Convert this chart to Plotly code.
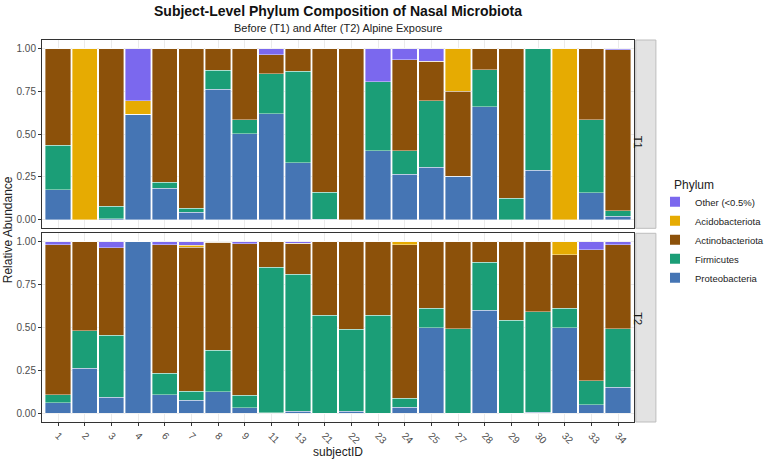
import plotly.graph_objects as go

subjects = ["1","2","3","4","6","7","8","9","11","13","21","22","23","24","25","27","28","29","30","32","33","34"]
phyla = ["Proteobacteria", "Firmicutes", "Actinobacteriota", "Acidobacteriota", "Other (<0.5%)"]
colors = {"Other (<0.5%)": "#7B68EE", "Acidobacteriota": "#E6AB02",
          "Actinobacteriota": "#8C510A", "Firmicutes": "#1B9E77", "Proteobacteria": "#4575B4"}

# T1 (before)
t1_proteo = [0.175,0,0.005,0.616,0.185,0.043,0.762,0.503,0.618,0.333,0.003,0,0.402,0.265,0.308,0.253,0.659,0,0.288,0,0.158,0.021]
t1_firm   = [0.26,0,0.075,0,0.035,0.023,0.111,0.08,0.234,0.534,0.157,0,0.403,0.137,0.388,0,0.218,0.127,0.712,0,0.425,0.032]
t1_actino = [0.565,0,0.92,0,0.78,0.934,0.127,0.417,0.111,0.133,0.84,1.0,0,0.534,0.23,0.497,0.123,0.873,0,0,0.417,0.941]
t1_acido  = [0,1.0,0,0.08,0,0,0,0,0,0,0,0,0,0,0,0.25,0,0,0,1.0,0,0]
t1_other  = [0,0,0,0.304,0,0,0,0,0.037,0,0,0,0.195,0.064,0.074,0,0,0,0,0,0,0.006]

# T2 (after)
t2_proteo = [0.062,0.262,0.093,1.0,0.109,0.078,0.126,0.033,0.003,0.014,0,0.014,0,0.037,0.499,0,0.6,0,0.008,0.499,0.05,0.153]
t2_firm   = [0.048,0.221,0.363,0,0.126,0.05,0.241,0.072,0.849,0.798,0.573,0.477,0.573,0.052,0.113,0.495,0.28,0.542,0.586,0.115,0.14,0.342]
t2_actino = [0.874,0.517,0.509,0,0.749,0.841,0.631,0.885,0.148,0.18,0.427,0.509,0.427,0.893,0.388,0.505,0.12,0.458,0.406,0.31,0.763,0.487]
t2_acido  = [0,0,0,0,0,0.01,0,0,0,0,0,0,0,0.018,0,0,0,0,0,0.076,0,0]
t2_other  = [0.016,0,0.035,0,0.016,0.021,0.002,0.01,0,0.008,0,0,0,0,0,0,0,0,0,0,0.047,0.018]

data = {
    "T1": dict(zip(phyla, [t1_proteo, t1_firm, t1_actino, t1_acido, t1_other])),
    "T2": dict(zip(phyla, [t2_proteo, t2_firm, t2_actino, t2_acido, t2_other])),
}

fig = go.Figure()
for tp, (xa, ya) in zip(["T1", "T2"], [("x", "y"), ("x2", "y2")]):
    for ph in phyla:
        fig.add_trace(go.Bar(
            x=subjects, y=data[tp][ph], name=ph, xaxis=xa, yaxis=ya,
            marker=dict(color=colors[ph], line=dict(color="white", width=0.4)),
            showlegend=(tp == "T1"), legendgroup=ph,
        ))

top_dom = [0.507, 1.0]
bot_dom = [0.0, 0.494]
gridc = "#EBEBEB"
tickfont = dict(family="Liberation Sans, Arial", size=10, color="#4D4D4D")

common_y = dict(range=[-0.05, 1.05], tickvals=[0, 0.25, 0.5, 0.75, 1.0],
                ticktext=["0.00", "0.25", "0.50", "0.75", "1.00"],
                showgrid=True, gridcolor=gridc, zeroline=False,
                ticks="outside", ticklen=3, tickcolor="#333333",
                showline=True, linecolor="#333333", linewidth=1, mirror=True,
                tickfont=tickfont)
common_x = dict(range=[-0.6, 21.6], showgrid=True, gridcolor=gridc,
                showline=True, linecolor="#333333", linewidth=1, mirror=True,
                type="category")

fig.update_layout(
    width=767, height=461,
    margin=dict(l=42, r=133, t=39.5, b=39, autoexpand=False),
    barmode="stack", bargap=0.06,
    plot_bgcolor="white", paper_bgcolor="white",
    font=dict(family="Liberation Sans, Arial", color="#222222"),
    xaxis=dict(domain=[0, 1], anchor="y", showticklabels=False, ticks="", matches="x2", **common_x),
    xaxis2=dict(domain=[0, 1], anchor="y2", ticks="outside", ticklen=3, tickcolor="#333333",
                tickangle=45, tickfont=tickfont, **common_x),
    yaxis=dict(domain=top_dom, anchor="x", **common_y),
    yaxis2=dict(domain=bot_dom, anchor="x2", **common_y),
    legend=dict(x=(655 - 42) / 592, y=(422 - 187) / 382.5, xanchor="left", yanchor="top",
                traceorder="reversed",
                font=dict(size=9.5, color="#222222"), itemsizing="constant",
                tracegroupgap=0, bgcolor="rgba(0,0,0,0)"),
)

# Legend title
fig.add_annotation(xref="paper", yref="paper", x=(672 - 42) / 592, y=(422 - 185) / 382.5,
                   text="Phylum", showarrow=False, xanchor="left", yanchor="middle",
                   font=dict(size=12, color="#222222"))

# Facet strips
strip_x0 = 1.003
strip_x1 = 1.037
for dom, lab in [(top_dom, "T1"), (bot_dom, "T2")]:
    fig.add_shape(type="rect", xref="paper", yref="paper", x0=strip_x0, x1=strip_x1,
                  y0=dom[0], y1=dom[1], fillcolor="#E3E3E3", line=dict(color="#BDBDBD", width=1))
    fig.add_annotation(xref="paper", yref="paper", x=(strip_x0 + strip_x1) / 2,
                       y=(dom[0] + dom[1]) / 2, text=lab, showarrow=False, textangle=90,
                       font=dict(size=11, color="#1A1A1A"))

# Titles
fig.add_annotation(xref="paper", yref="paper", x=(338 - 42) / 592, y=1.0, yshift=29,
                   text="<b>Subject-Level Phylum Composition of Nasal Microbiota</b>",
                   showarrow=False, font=dict(size=14, color="#111111"), yanchor="middle")
fig.add_annotation(xref="paper", yref="paper", x=(338 - 42) / 592, y=1.0, yshift=12,
                   text="Before (T1) and After (T2) Alpine Exposure",
                   showarrow=False, font=dict(size=11, color="#222222"), yanchor="middle")
fig.add_annotation(xref="paper", yref="paper", x=(338 - 42) / 592, y=0, yshift=-30,
                   text="subjectID", showarrow=False, font=dict(size=12, color="#222222"),
                   yanchor="middle")
fig.add_annotation(xref="paper", yref="paper", x=0, xshift=-34, y=(422 - 230) / 382.5,
                   text="Relative Abundance", showarrow=False, textangle=-90,
                   font=dict(size=12, color="#222222"), xanchor="center")

fig.write_html("out.html")
